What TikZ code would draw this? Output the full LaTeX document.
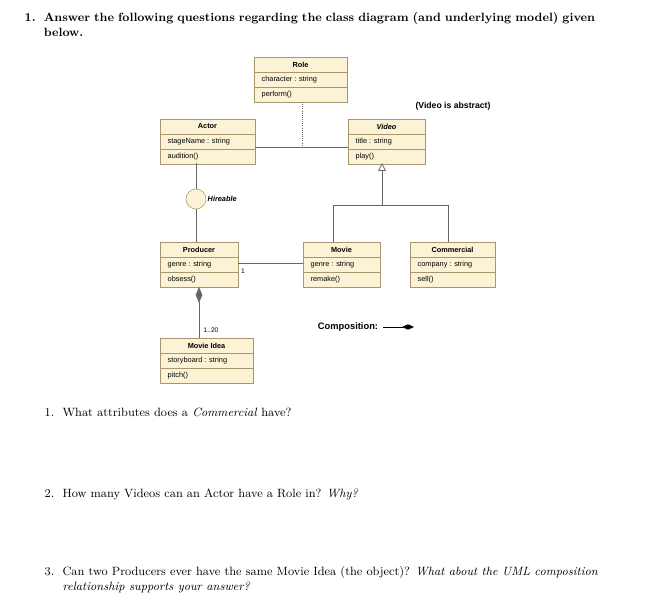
\documentclass[tikz,border=0pt]{standalone}
\usepackage{fontspec}
\newfontfamily\umlf{Liberation Sans}
\usetikzlibrary{arrows.meta,shapes.geometric}
\definecolor{cfill}{RGB}{252,243,214}
\definecolor{cdraw}{RGB}{170,150,110}
\begin{document}
\begin{tikzpicture}[x=0.75pt,y=-0.75pt,
  box/.style={draw=cdraw,fill=cfill,line width=0.6pt},
  sep/.style={draw=cdraw,line width=0.5pt},
  ttl/.style={font=\umlf\fontsize{5.5}{6}\selectfont\bfseries},
  itm/.style={font=\umlf\fontsize{5.5}{6}\selectfont,anchor=west},
  ln/.style={draw=black!60,line width=0.6pt},
  q/.style={font=\fontsize{9}{11}\selectfont,anchor=north west,align=left}]
\useasboundingbox (0,0) rectangle (660,616);
% class macro: x1,y1,x2,name,attr,method
\newcommand{\umlclass}[7]{%
  \path[box] (#1,#2) rectangle (#3,#2+45);
  \draw[sep] (#1,#2+15) -- (#3,#2+15) (#1,#2+30) -- (#3,#2+30);
  \node[ttl] (#7) at ({(#1+#3)/2},#2+7.5) {#4};
  \node[itm] (#7a) at (#1+3,#2+22.5) {#5};
  \node[itm] (#7m) at (#1+3,#2+37.5) {#6};
  \coordinate (#7-nw) at (#1,#2); \coordinate (#7-se) at (#3,#2+45);}
\umlclass{254}{57}{347}{Role}{character : string}{perform()}{role}
\umlclass{160}{119}{255}{Actor}{stageName : string}{audition()}{actor}
\umlclass{348}{119}{425}{\itshape Video}{title : string}{play()}{video}
\umlclass{160}{242}{238}{Producer}{genre : string}{obsess()}{prod}
\umlclass{303}{242}{380}{Movie}{genre : string}{remake()}{movie}
\umlclass{410}{242}{495}{Commercial}{company : string}{sell()}{comm}
\umlclass{160}{338}{253}{Movie Idea}{storyboard : string}{pitch()}{idea}
% association actor-video with role
\coordinate (av) at (302,147);
\draw[ln] (255,147) -- (348,147);
\draw[ln,densely dotted] (302,102) -- (av);
% hireable
\node[circle,draw=cdraw,fill=cfill,minimum size=15pt,inner sep=0pt] (hire) at (196,199) {};
\node[font=\umlf\fontsize{5.5}{6}\selectfont\bfseries\itshape,anchor=west] (hl) at (203,199) {Hireable};
\draw[ln] (196,163) -- (hire.north) (hire.south) -- (196,242);
% producer-movie
\draw[ln] (238,263) -- (303,263);
\node[font=\umlf\fontsize{5}{6}\selectfont] (one) at (243,271) {1};
% generalization
\draw[ln] (333,242) -- (333,205) -- (448,205) -- (448,242);
\draw[ln,-{Triangle[open,length=6pt,width=6pt]}] (382,205) -- (382,163);
% composition
\draw[ln,{Diamond[length=12pt,width=5pt]}-] (199,287) -- (199,338);
\node[font=\umlf\fontsize{5}{6}\selectfont] (mult) at (211,330) {1..20};
\node[font=\umlf\fontsize{7}{8}\selectfont\bfseries] (comp) at (348,327) {Composition:};
\coordinate (c1) at (383,327);
\draw[ln,black,-{Diamond[length=9pt,width=4pt]}] (c1) -- (414,327);
\node[font=\umlf\fontsize{6.5}{8}\selectfont\bfseries] (abs) at (453,106) {(Video is abstract)};
% text
\node[q,text width=600pt] (h) at (20,8) {\textbf{1.\ \ Answer the following questions regarding the class diagram (and underlying model) given\\ \phantom{1.\ \ }below.}};
\node[q] (q1) at (40,403) {1.\ \ What attributes does a \textit{Commercial} have?};
\node[q] (q2) at (40,484) {2.\ \ How many Videos can an Actor have a Role in? \textit{Why?}};
\node[q] (q3) at (40,562) {3.\ \ Can two Producers ever have the same Movie Idea (the object)? \textit{What about the UML composition}\\ \phantom{3.\ \ }\textit{relationship supports your answer?}};
\end{tikzpicture}
\end{document}
